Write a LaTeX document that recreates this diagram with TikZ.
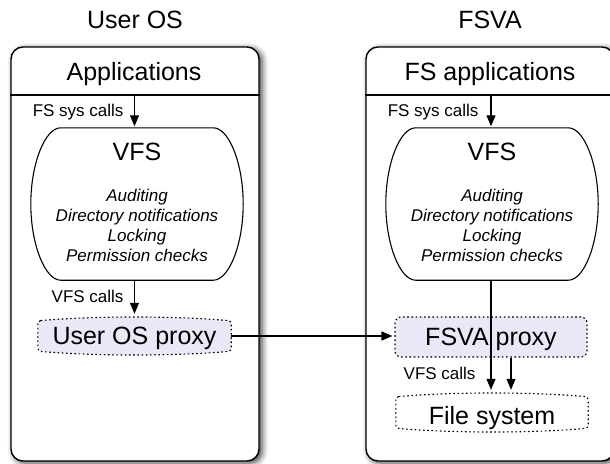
\documentclass[tikz,border=0pt]{standalone}
\usepackage{fontspec}
\setmainfont{Liberation Sans}
\usetikzlibrary{arrows.meta,calc,shadows.blur}
\definecolor{proxyfill}{RGB}{232,232,248}
\tikzset{
  big/.style={font=\fontsize{25}{30}\selectfont},
  small/.style={font=\fontsize{17}{20}\selectfont},
  note/.style={font=\fontsize{17}{20}\selectfont\itshape},
  osbox/.style={draw, line width=1.4pt, rounded corners=12pt, fill=white, inner sep=0pt,
    minimum width=248pt, minimum height=414pt,
    blur shadow={shadow xshift=3pt, shadow yshift=-2pt, shadow blur radius=6pt, shadow opacity=80}},
  region/.style={inner sep=0pt, draw=none},
  arr/.style={line width=1.1pt, -{Triangle[length=11pt,width=9pt]}, shorten >=1.5pt},
  dotline/.style={line width=1.1pt, dash pattern=on 1.6pt off 2.6pt},
  outline/.style={line width=1.1pt},
}
% VFS layer outline: flat top and bottom, bulging sides
\newcommand\vfsoutline[1]{%
  \draw[outline] ($(#1.north west)+(30,0)$) -- ($(#1.north east)+(-30,0)$)
    .. controls ($(#1.north east)+(-14,0)$) and ($(#1.east)+(0,-40)$) .. (#1.east)
    .. controls ($(#1.east)+(0,40)$) and ($(#1.south east)+(-14,0)$) .. ($(#1.south east)+(-30,0)$)
    -- ($(#1.south west)+(30,0)$)
    .. controls ($(#1.south west)+(14,0)$) and ($(#1.west)+(0,40)$) .. (#1.west)
    .. controls ($(#1.west)+(0,-40)$) and ($(#1.north west)+(14,0)$) .. cycle;}
% flat barrel: straight sides, slightly bowed top and bottom
\newcommand\hbarrel[2]{%
  \path[#2, rounded corners=3pt] ($(#1.north west)+(0,4)$)
    .. controls ($(#1.north west)!0.3!(#1.north east)+(0,-1)$) and ($(#1.north west)!0.7!(#1.north east)+(0,-1)$) .. ($(#1.north east)+(0,4)$)
    -- ($(#1.south east)+(0,-4)$)
    .. controls ($(#1.south west)!0.7!(#1.south east)+(0,1)$) and ($(#1.south west)!0.3!(#1.south east)+(0,1)$) .. ($(#1.south west)+(0,-4)$)
    -- cycle;}
\begin{document}
\begin{tikzpicture}[x=1pt,y=-1pt]
\useasboundingbox (0,0) rectangle (610,463);

% operating system frames
\node[osbox] (boxL) at (135,254) {};
\node[osbox] (boxR) at (490,254) {};
\coordinate (hdr) at (0,95);
\draw[line width=1.4pt] (boxL.west |- hdr) -- (boxL.east |- hdr);
\draw[line width=1.4pt] (boxR.west |- hdr) -- (boxR.east |- hdr);

% titles and headers
\node[big, anchor=base] (titleL) at (135,28) {User OS};
\node[big, anchor=base] (titleR) at (490,28) {FSVA};
\node[big, anchor=base] (appL) at (134,80) {Applications};
\node[big, anchor=base] (appR) at (490,80) {FS applications};

% VFS layers
\node[region, minimum width=212pt, minimum height=152pt] (vfsL) at (137,204) {};
\node[region, minimum width=212pt, minimum height=152pt] (vfsR) at (492,204) {};
\vfsoutline{vfsL}
\vfsoutline{vfsR}
\node[big, anchor=base] (vfsLname) at (137,160) {VFS};
\node[note, anchor=base] (audL) at (137,201) {Auditing};
\node[note, anchor=base] (dirL) at (137,221) {Directory notifications};
\node[note, anchor=base] (lockL) at (137,241) {Locking};
\node[note, anchor=base] (permL) at (137,261) {Permission checks};
\node[big, anchor=base] (vfsRname) at (492,160) {VFS};
\node[note, anchor=base] (audR) at (492,201) {Auditing};
\node[note, anchor=base] (dirR) at (492,221) {Directory notifications};
\node[note, anchor=base] (lockR) at (492,241) {Locking};
\node[note, anchor=base] (permR) at (492,261) {Permission checks};

% proxies and file system
\node[region, minimum width=193pt, minimum height=38pt] (proxL) at (134.5,336) {};
\hbarrel{proxL}{fill=proxyfill, draw, dotline}
\node[big, anchor=base] (proxLtext) at (134.5,344) {User OS proxy};

\node[big, draw, dotline, fill=proxyfill, rounded corners=6pt, inner sep=0pt,
      minimum width=192pt, minimum height=40pt, text height=18pt, text depth=2pt]
      (proxR) at (491,337) {FSVA proxy};

\node[region, minimum width=192pt, minimum height=39pt] (fileR) at (492,412.5) {};
\hbarrel{fileR}{fill=white, draw, dotline}
\node[big, anchor=base] (fileRtext) at (492,424) {File system};

% call flow
\draw[arr] (hdr -| proxL) -- (vfsL.north -| proxL);
\node[small, anchor=base east] (fsL) at (127,116.7) {FS sys calls};
\draw[arr, shorten >=3pt] (vfsL.south -| proxL) -- (proxL.north);
\node[small, anchor=base east] (vcL) at (127,302.7) {VFS calls};

\draw[arr] (hdr -| proxR) -- (vfsR.north -| proxR);
\node[small, anchor=base east] (fsR) at (482,116.7) {FS sys calls};
\draw[arr, shorten >=3pt] (vfsR.south -| proxR) -- (fileR.north -| proxR);
\draw[arr, shorten >=3pt] ([xshift=20pt]proxR.south) -- ([xshift=20pt]proxR.south |- fileR.north);
\node[small, anchor=base east] (vcR) at (479,379) {VFS calls};

\draw[arr, shorten >=2pt] (proxL.east) -- (proxL.east -| proxR.west);
\end{tikzpicture}
\end{document}
